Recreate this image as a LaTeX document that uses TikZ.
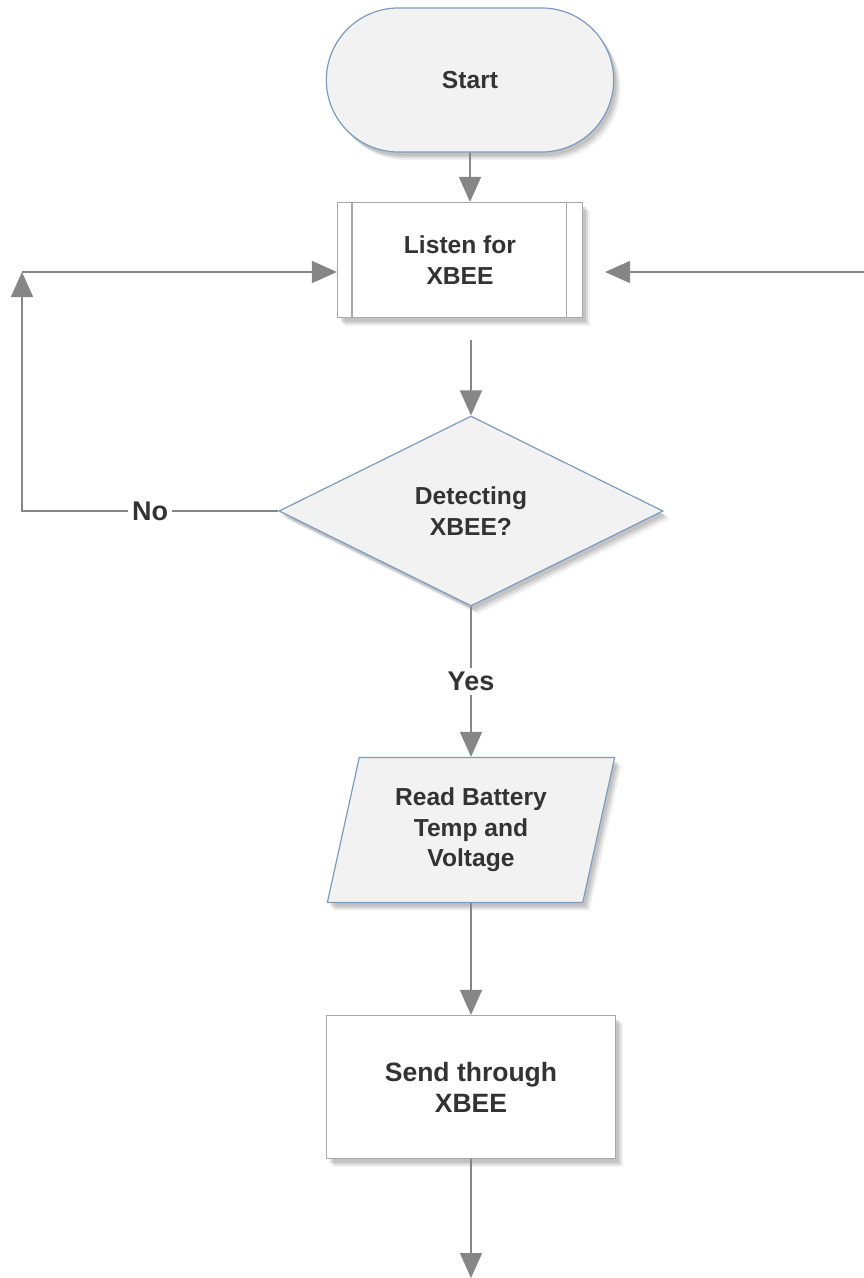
\documentclass[tikz,border=0pt]{standalone}
\usepackage{fontspec}
\setmainfont{Liberation Sans}
\usepackage{xcolor}
\usetikzlibrary{arrows.meta,positioning,calc,shapes.geometric,shapes.misc,shadows}
\definecolor{chartFill}{HTML}{F2F2F2}
\definecolor{chartEdge}{HTML}{7D9BBE}
\definecolor{boxEdge}{HTML}{A8A8A8}
\definecolor{flowGray}{HTML}{868686}
\definecolor{txtGray}{HTML}{333333}

\begin{document}
\begin{tikzpicture}[x=1pt,y=-1pt, font=\bfseries\fontsize{24.6}{30.5}\selectfont,
  soft/.style={drop shadow={shadow xshift=7pt,shadow yshift=-8pt,opacity=.12},
               drop shadow={shadow xshift=5pt,shadow yshift=-6pt,opacity=.2},
               drop shadow={shadow xshift=3pt,shadow yshift=-4pt,opacity=.25}},
  term/.style={rounded rectangle,draw=chartEdge,fill=chartFill,line width=1.2pt,
               minimum width=294pt,minimum height=144pt,text=txtGray,soft},
  proc/.style={rectangle,draw=boxEdge,fill=white,line width=1.2pt,align=center,text=txtGray,soft},
  decide/.style={diamond,aspect=2,draw=chartEdge,fill=chartFill,line width=1.2pt,inner sep=0pt,
               minimum width=384pt,minimum height=190pt,align=center,text=txtGray,soft},
  datain/.style={trapezium,trapezium left angle=76,trapezium right angle=104,trapezium stretches=true,
               draw=chartEdge,fill=chartFill,line width=1.2pt,minimum width=288pt,minimum height=145pt,
               align=center,text=txtGray,soft},
  flow/.style={draw=flowGray,line width=1.6pt,-{Triangle[length=25pt,width=22pt]}},
  tag/.style={fill=white,inner sep=4pt,text=txtGray,font=\bfseries\fontsize{27}{31}\selectfont}]
\useasboundingbox (0,0) rectangle (864,1278);
% --- nodes ---
  \node[term] (start) at (470,80) {Start};
  \node[proc,minimum width=245pt,minimum height=115pt] (listen) at (460,260) {Listen for\\XBEE};
  \node[decide] (det) at (471,511) {Detecting\\XBEE?};
  \node[datain] (read) at (471,830) {Read Battery\\Temp and\\Voltage};
  \node[proc,minimum width=289pt,minimum height=143pt,font=\bfseries\fontsize{26.5}{31}\selectfont]
    (send) at (471,1087) {Send through\\XBEE};
  % predefined process bars
  \draw[boxEdge,line width=1.2pt] ([xshift=15pt]listen.north west) -- ([xshift=15pt]listen.south west);
  \draw[boxEdge,line width=1.2pt] ([xshift=-17pt]listen.north east) -- ([xshift=-17pt]listen.south east);
  \coordinate (loop) at (22,272);
  \coordinate (rin) at (864,272);
  \coordinate (out) at (471,1278);
% --- connectors ---
  \draw[flow] (start) -- (start |- listen.north);
  \draw[flow] ([yshift=-22pt]det.north |- listen.south) -- (det.north);
  \draw[flow] (det.west) -- node[tag]{No} (loop |- det.west) -- (loop);
  \draw[flow] (loop) -- (listen.west |- loop);
  \draw[flow] (rin) -- ([xshift=22pt]listen.east |- rin);
  \draw[flow] (det.south) -- node[tag]{Yes} (read.north);
  \draw[flow] (read.south) -- (send.north);
  \draw[flow] (send.south) -- (out);
\end{tikzpicture}
\end{document}
